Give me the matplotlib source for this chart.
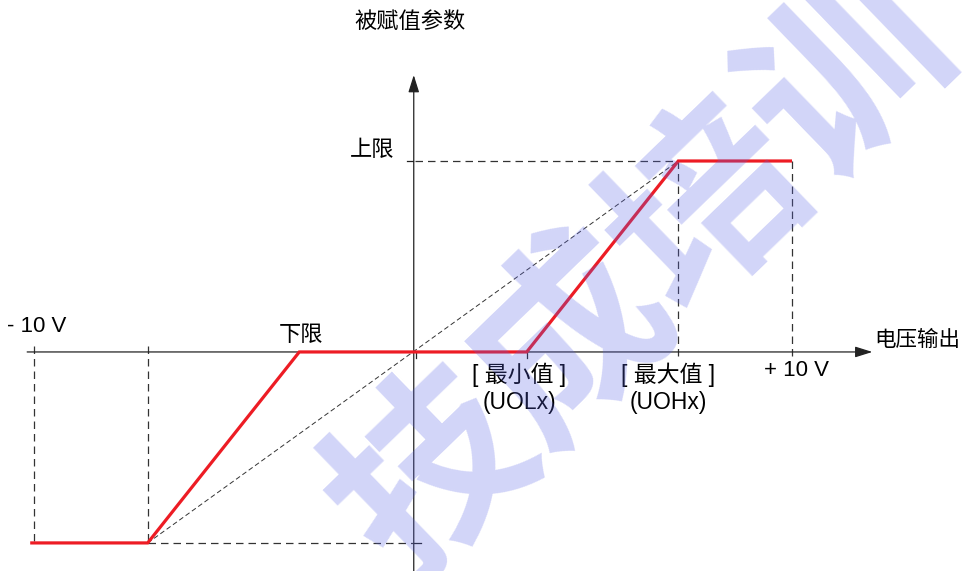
import matplotlib
matplotlib.use("Agg")
import matplotlib.pyplot as plt
from matplotlib.transforms import offset_copy
import numpy as np

plt.rcParams['font.family'] = ['Liberation Sans', 'Noto Sans CJK SC', 'DejaVu Sans']

# Data: output voltage (V) -> assigned parameter (normalised, -1 = lower limit, +1 = upper limit)
volts = [-10.1, -7, -3, 3, 7, 10]
param = [-1, -1, 0, 0, 1, 1]

v_min, v_max = -10, 10
uol, uoh = 3, 7          # [最小值] (UOLx), [最大值] (UOHx)
low_corner = -7          # corresponding point on the negative side
lo_knee = -3             # 下限 knee
upper, lower = 1, -1

y_title = "被赋值参数"
x_title = "电压输出"
upper_label = "上限"
lower_label = "下限"
neg_label = "- 10 V"
pos_label = "+ 10 V"
min_label = "[ 最小值 ]\n(UOLx)"
max_label = "[ 最大值 ]\n(UOHx)"
watermark = "技成培训"

RED = "#ED1C24"
INK = "#222222"
DASH = "#333333"

fig = plt.figure(figsize=(9.63, 5.71), dpi=100)
ax = fig.add_axes([0, 0, 1, 1])
ax.set_xlim(-10.897, 14.512)
ax.set_ylim(-1.147, 1.843)
ax.axis("off")

# axes with arrows
ax.annotate("", xy=(12.12, 0), xytext=(-10.18, 0),
            arrowprops=dict(arrowstyle="-|>,head_length=0.7,head_width=0.22",
                            color=INK, lw=0.9, shrinkA=0, shrinkB=0, mutation_scale=15))
ax.annotate("", xy=(0.02, 1.45), xytext=(0.02, -1.2),
            arrowprops=dict(arrowstyle="-|>,head_length=0.7,head_width=0.22",
                            color=INK, lw=0.9, shrinkA=0, shrinkB=0, mutation_scale=15))

# dashed guide lines
dkw = dict(color=DASH, lw=0.9, ls=(0, (6, 4)))
for v in (v_min, low_corner):
    ax.plot([v, v], [0.03, lower], **dkw)
for v in (uoh, v_max):
    ax.plot([v, v], [upper, -0.03], **dkw)
ax.plot([0.05, uoh], [upper, upper], **dkw)
ax.plot([low_corner, 0.0], [lower, lower], **dkw)
ax.plot([low_corner, uoh], [lower, upper], color=DASH, lw=0.7, ls=(0, (5, 3)))

# small solid ticks on axes
tkw = dict(color=INK, lw=0.9)
ax.plot([-0.15, 0.0], [upper, upper], **tkw)
ax.plot([0.02, 0.2], [lower, lower], **tkw)
ax.plot([0.08, 0.08], [0, -0.03], **tkw)
ax.plot([uol, uol], [0, -0.03], **tkw)

# red transfer characteristic
ax.plot(volts, param, color=RED, lw=2.3, solid_capstyle="butt", solid_joinstyle="miter", zorder=3)

# labels
fs = 16
ax.text(-0.08, 1.725, y_title, fontsize=fs, ha="center", va="center")
ax.text(-0.48, upper + 0.055, upper_label, fontsize=fs, ha="right", va="center")
ax.text(lo_knee + 0.05, 0.085, lower_label, fontsize=fs, ha="center", va="center")
ax.text(-9.92, 0.135, neg_label, fontsize=fs, ha="center", va="center")
ax.text(v_max + 0.13, -0.095, pos_label, fontsize=fs, ha="center", va="center")
ax.text(12.16, 0.058, x_title, fontsize=15.5, ha="left", va="center")
ax.text(uol - 0.2, -0.19, min_label, fontsize=16.5, ha="center", va="center", linespacing=1.2)
ax.text(uoh - 0.27, -0.19, max_label, fontsize=16.5, ha="center", va="center", linespacing=1.2)

# watermark, one glyph at a time along a slanted line (cut by the figure edges)
angle = 44
step = 192  # pixels between glyph centres
ux, uy = np.cos(np.radians(angle)), np.sin(np.radians(angle))
n = len(watermark)
for i, ch in enumerate(watermark):
    k = (i - (n - 1) / 2) * step
    tr = offset_copy(ax.transData, fig=fig, x=k * ux, y=k * uy, units="dots")
    ax.text(6.05, 0.40, ch, transform=tr, fontsize=140, fontweight="bold",
            family="Noto Sans CJK SC", color=(0.35, 0.39, 0.9), alpha=0.27,
            rotation=angle, ha="center", va="center", rotation_mode="anchor", zorder=5)

fig.savefig("out.png", dpi=100)
